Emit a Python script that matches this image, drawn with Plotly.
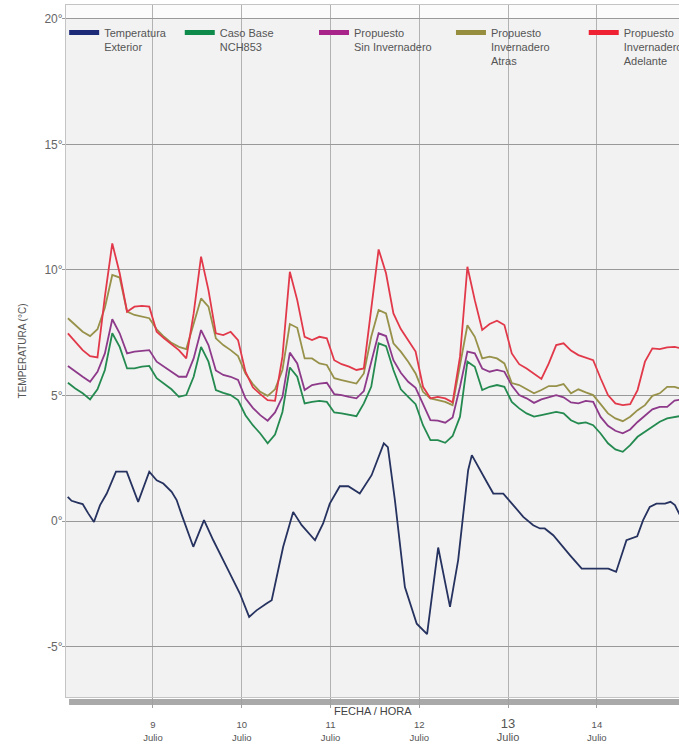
import plotly.graph_objects as go

# sample times: hours since 8 July 00:00 (every 2 h, odd hours)
HOURS = list(range(1, 168, 2))

ADELANTE = [
    7.48, 7.14, 6.81, 6.57, 6.52, 8.94, 11.06, 9.87, 8.34, 8.54, 8.57, 8.54,
    7.54, 7.28, 7.04, 6.81, 6.48, 8.27, 10.53, 9.2, 7.48, 7.41, 7.54, 7.21,
    5.95, 5.33, 5.06, 4.82, 4.79, 6.55, 9.93, 8.8, 7.34, 7.21, 7.34, 7.28,
    6.41, 6.25, 6.15, 6.02, 6.08, 8.5, 10.82, 9.87, 8.27, 7.65, 7.21, 6.75,
    5.35, 4.89, 4.95, 4.89, 4.73, 6.55, 10.13, 8.8, 7.61, 7.85, 7.98, 7.81,
    6.68, 6.25, 6.08, 5.88, 5.66, 6.28, 7.01, 7.08, 6.79, 6.61, 6.51, 6.41,
    5.69, 5.02, 4.69, 4.62, 4.66, 5.22, 6.35, 6.88, 6.85, 6.92, 6.94, 6.87,
]
ATRAS = [
    8.08, 7.81, 7.54, 7.37, 7.64, 8.5, 9.8, 9.7, 8.34, 8.21, 8.14, 8.08,
    7.64, 7.34, 7.1, 6.94, 6.85, 7.88, 8.87, 8.54, 7.28, 7.01, 6.81, 6.57,
    5.88, 5.46, 5.15, 4.99, 5.25, 6.02, 7.85, 7.7, 6.48, 6.48, 6.28, 6.22,
    5.69, 5.62, 5.55, 5.48, 5.88, 7.34, 8.41, 8.27, 7.08, 6.75, 6.35, 5.88,
    5.15, 4.89, 4.82, 4.75, 4.62, 6.15, 7.8, 7.34, 6.48, 6.55, 6.48, 6.28,
    5.5, 5.42, 5.25, 5.09, 5.22, 5.38, 5.38, 5.46, 5.09, 5.25, 5.13, 5.02,
    4.66, 4.29, 4.09, 3.98, 4.16, 4.42, 4.62, 4.99, 5.09, 5.35, 5.35, 5.25,
]
SIN_INV = [
    6.18, 5.95, 5.75, 5.55, 5.95, 6.68, 8.04, 7.48, 6.68, 6.75, 6.79, 6.81,
    6.35, 6.15, 5.95, 5.75, 5.75, 6.48, 7.61, 7.01, 6.0, 5.82, 5.75, 5.62,
    4.89, 4.51, 4.22, 4.0, 4.33, 4.95, 6.71, 6.28, 5.22, 5.42, 5.48, 5.51,
    5.06, 5.02, 4.95, 4.89, 5.18, 6.28, 7.48, 7.37, 6.41, 5.91, 5.55, 5.31,
    4.69, 4.02, 4.0, 3.92, 4.13, 5.35, 6.75, 6.68, 6.08, 5.95, 6.02, 5.95,
    5.4, 5.02, 4.89, 4.71, 4.85, 4.95, 5.02, 4.93, 4.73, 4.69, 4.79, 4.75,
    4.15, 3.8, 3.6, 3.5, 3.65, 3.95, 4.2, 4.45, 4.55, 4.55, 4.8, 4.85,
]
CASO_BASE = [
    5.51, 5.28, 5.09, 4.85, 5.25, 6.02, 7.48, 6.94, 6.08, 6.08, 6.15, 6.18,
    5.69, 5.48, 5.25, 4.95, 5.02, 5.75, 6.94, 6.35, 5.22, 5.11, 5.02, 4.82,
    4.22, 3.82, 3.49, 3.1, 3.45, 4.35, 6.12, 5.75, 4.69, 4.75, 4.79, 4.75,
    4.33, 4.29, 4.22, 4.18, 4.69, 5.35, 7.08, 6.97, 6.02, 5.25, 4.95, 4.66,
    3.82, 3.23, 3.23, 3.12, 3.39, 4.16, 6.35, 6.15, 5.22, 5.35, 5.42, 5.35,
    4.75, 4.49, 4.29, 4.16, 4.22, 4.29, 4.35, 4.29, 4.02, 3.89, 3.93, 3.82,
    3.49, 3.1, 2.86, 2.76, 3.03, 3.36, 3.56, 3.76, 3.96, 4.09, 4.16, 4.2,
]

# exterior temperature, read at its own vertices (hours since 8 July 00:00)
EXT_HOURS = [
    0.95, 2.0, 3.8, 5.0, 6.5, 8.05, 9.7, 11.5, 14.0, 16.9, 20.0, 23.0,
    25.0, 26.8, 29.05, 30.4, 31.8, 34.9, 37.8, 40.3, 43.9, 47.5,
    50.0, 52.0, 54.7, 56.1, 59.2, 61.9, 64.2, 67.8, 70.0, 71.8,
    74.5, 76.8, 79.9, 83.1, 86.4, 87.5, 89.4, 92.1, 95.3,
    98.1, 101.1, 104.3, 106.5, 109.2, 110.2, 111.9, 114.2, 116.0, 118.7,
    121.8, 124.1, 126.8, 128.6, 129.9, 132.2, 136.7, 139.9,
    147.1, 149.2, 152.0, 154.9, 156.5, 158.3, 160.1, 162.4, 163.9, 165.1, 166.2, 167.0,
]
EXTERIOR = [
    0.97, 0.81, 0.73, 0.68, 0.31, -0.03, 0.64, 1.1, 1.97, 1.97, 0.77, 1.97,
    1.63, 1.5, 1.17, 0.84, 0.24, -1.02, 0.04, -0.76, -1.82, -2.88,
    -3.81, -3.55, -3.28, -3.15, -1.02, 0.37, -0.16, -0.76, -0.09, 0.7,
    1.39, 1.39, 1.1, 1.83, 3.1, 2.95, 0.84, -2.62, -4.08,
    -4.5, -1.05, -3.41, -1.55, 2.03, 2.63, 2.16, 1.57, 1.1, 1.1,
    0.57, 0.17, -0.16, -0.29, -0.29, -0.56, -1.35, -1.89,
    -1.89, -2.02, -0.76, -0.6, 0.04, 0.57, 0.7, 0.7, 0.77, 0.64, 0.31, 0.1,
]

DAY_TICKS = [24, 48, 72, 96, 120, 144]
DAY_LABELS = [
    "9<br>Julio", "10<br>Julio", "11<br>Julio", "12<br>Julio",
    "<span style='font-size:13px'>13</span><br><span style='font-size:11px'>Julio</span>",
    "14<br>Julio",
]
Y_TICKS = [-5, 0, 5, 10, 15, 20]
Y_LABELS = ["-5°", "0°", "5°", "10°", "15°", "20°"]

SERIES = [
    ("Temperatura<br>Exterior", EXT_HOURS, EXTERIOR, "#26325f", "#1c2a78"),
    ("Caso Base<br>NCH853", HOURS, CASO_BASE, "#248a50", "#0e8a4a"),
    ("Propuesto<br>Sin Invernadero", HOURS, SIN_INV, "#8e3a8a", "#a8248a"),
    ("Propuesto<br>Invernadero<br>Atras", HOURS, ATRAS, "#97914a", "#968d3e"),
    ("Propuesto<br>Invernadero<br>Adelante", HOURS, ADELANTE, "#e2394a", "#ee2233"),
]
LEGEND_X = [-0.003, 0.1856, 0.4046, 0.628, 0.8446]

fig = go.Figure()
for i, (name, xs, ys, lc, sc) in enumerate(SERIES):
    fig.add_trace(go.Scatter(x=xs, y=ys, mode="lines", name=name,
                             line=dict(color=lc, width=1.8), showlegend=False,
                             hoverinfo="skip"))
for i, (name, xs, ys, lc, sc) in enumerate(SERIES):
    lg = "legend" if i == 0 else f"legend{i+1}"
    fig.add_trace(go.Scatter(x=[None], y=[None], mode="lines", name=name,
                             line=dict(color=sc, width=5), legend=lg))

legend_style = dict(yanchor="top", y=0.98, xanchor="left",
                    bgcolor="rgba(0,0,0,0)", borderwidth=0, valign="top",
                    itemwidth=30, font=dict(size=11, color="#555555",
                                            family="Liberation Sans, Arial, sans-serif"))
layout_legends = {}
for i, lx in enumerate(LEGEND_X):
    key = "legend" if i == 0 else f"legend{i+1}"
    layout_legends[key] = dict(legend_style, x=lx)

fig.update_layout(
    width=679, height=744,
    margin=dict(l=66, r=0, t=5, b=47, autoexpand=False),
    paper_bgcolor="white", plot_bgcolor="#f2f2f2",
    font=dict(family="Liberation Sans, Arial, sans-serif", color="#555555"),
    **layout_legends,
    xaxis=dict(range=[0.49, 166.2], tickvals=DAY_TICKS, ticktext=DAY_LABELS,
               automargin=False,
               showgrid=True, gridcolor="#b2b2b2", gridwidth=1, zeroline=False,
               ticks="outside", ticklen=10, tickcolor="#a0a0a0",
               tickfont=dict(size=9.5, color="#555555"), ticklabelstandoff=9,
               showline=True, linecolor="#c4c4c4", mirror=True),
    yaxis=dict(range=[-7, 20.55], tickvals=Y_TICKS, ticktext=Y_LABELS,
               automargin=False,
               showgrid=True, gridcolor="#999999", gridwidth=1, zeroline=False,
               ticks="outside", ticklen=3, tickcolor="#999999",
               tickfont=dict(size=12, color="#666666"), ticklabelstandoff=-3,
               showline=True, linecolor="#c4c4c4",
               title=dict(text="TEMPERATURA (°C)", standoff=15,
                          font=dict(size=10, color="#555555"))),
    shapes=[
        dict(type="rect", xref="paper", yref="y", x0=0, x1=1, y0=20, y1=20.55,
             fillcolor="#fbfbfb", line=dict(width=0), layer="below"),
        dict(type="rect", xref="paper", yref="paper", x0=0.005, x1=1,
             y0=-0.0116, y1=-0.0029, fillcolor="#a9a9a9",
             line=dict(width=0), layer="below"),
    ],
    annotations=[
        dict(text="FECHA / HORA", xref="paper", yref="paper", x=0.5, y=-0.0205,
             xanchor="center", yanchor="middle", showarrow=False,
             font=dict(size=11, color="#444444")),
    ],
)

fig.write_html("out.html", config={"displayModeBar": False},
               post_script="document.body.style.margin='0';")
